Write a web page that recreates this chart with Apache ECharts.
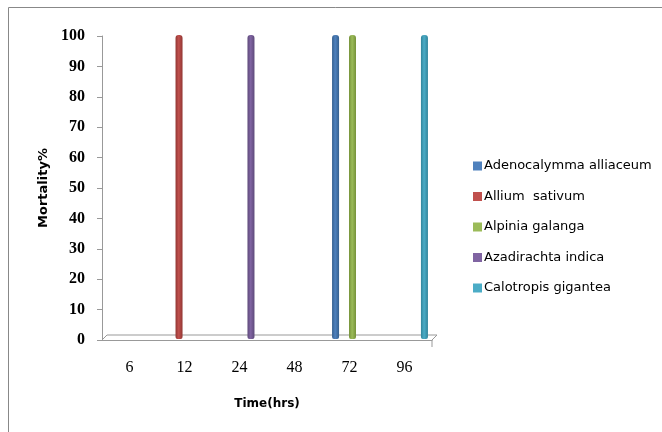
<!DOCTYPE html>
<html lang="en">
<head>
    <meta charset="UTF-8">
    <title>Mortality% over time</title>
    <script src="https://cdn.jsdelivr.net/npm/echarts@6/dist/echarts.min.js"></script>
    <style>
        body { margin: 0; background: #fff; }
        #chart { width: 662px; height: 432px; }
    </style>
</head>
<body>
<div id="chart"></div>
<script>
    // time points (hrs)
    const hours = ['6', '12', '24', '48', '72', '96'];
    const yTicks = [0, 10, 20, 30, 40, 50, 60, 70, 80, 90, 100];

    const names = ['Adenocalymma alliaceum', 'Allium  sativum', 'Alpinia galanga', 'Azadirachta indica', 'Calotropis gigantea'];
    const adenocalymma = [0, 0, 0, 0, 100, 0];
    const allium = [0, 100, 0, 0, 0, 0];
    const alpinia = [0, 0, 0, 0, 100, 0];
    const azadirachta = [0, 0, 100, 0, 0, 0];
    const calotropis = [0, 0, 0, 0, 0, 100];
    const colors = ['#4F81BD', '#C0504D', '#9BBB59', '#8064A2', '#4BACC6'];
    const edges = ['#35608f', '#923633', '#76923a', '#5e4a7a', '#31849b'];

    const chart = echarts.init(document.getElementById('chart'));

    const seriesData = [adenocalymma, allium, alpinia, azadirachta, calotropis];
    // bars live on a second grid nudged up/right to fake the 3D depth
    const series = seriesData.map((d, i) => ({
        name: names[i],
        type: 'bar',
        xAxisIndex: 1,
        yAxisIndex: 1,
        barWidth: 7,
        barGap: '21%',
        itemStyle: {
            borderRadius: [3, 3, 2, 2],
            color: new echarts.graphic.LinearGradient(0, 0, 1, 0, [
                { offset: 0, color: edges[i] },
                { offset: 0.45, color: colors[i] },
                { offset: 1, color: edges[i] }
            ])
        },
        data: d
    }));

    const option = {
        animation: false,
        color: colors,
        grid: [
            { left: 102, right: 230, top: 36, bottom: 92 },
            { left: 105, right: 227, top: 35, bottom: 93 }
        ],
        legend: {
            orient: 'vertical',
            left: 468,
            top: 154,
            itemWidth: 9,
            itemHeight: 9,
            itemGap: 16.5,
            icon: 'rect',
            textStyle: { fontFamily: 'DejaVu Sans', fontSize: 13, lineHeight: 14, color: '#000', padding: [0, 0, 0, -3] },
            data: names.map((n, i) => ({ name: n, itemStyle: { color: colors[i] } }))
        },
        xAxis: [
            {
                type: 'category',
                gridIndex: 0,
                data: hours,
                name: 'Time(hrs)',
                nameLocation: 'middle',
                nameGap: 58,
                nameTextStyle: { fontFamily: 'DejaVu Sans', fontWeight: 'bold', fontSize: 12, color: '#000' },
                axisLine: { lineStyle: { color: '#999', width: 1 } },
                axisTick: { length: 7, lineStyle: { color: '#999' } },
                axisLabel: { margin: 20, fontFamily: 'Liberation Serif', fontSize: 16, color: '#000' }
            },
            {
                type: 'category',
                gridIndex: 1,
                data: hours,
                show: false
            }
        ],
        yAxis: [
            {
                type: 'value',
                gridIndex: 0,
                min: 0,
                max: 100,
                interval: 10,
                name: 'Mortality%',
                nameLocation: 'middle',
                nameGap: 52,
                nameTextStyle: { fontFamily: 'DejaVu Sans', fontWeight: 'bold', fontSize: 13, color: '#000' },
                axisLine: { show: true, lineStyle: { color: '#999', width: 1 } },
                axisTick: { show: true, length: 5, lineStyle: { color: '#999' } },
                splitLine: { show: false },
                axisLabel: {
                    margin: 17,
                    fontFamily: 'Liberation Serif',
                    fontWeight: 'bold',
                    fontSize: 16,
                    color: '#000',
                    formatter: v => yTicks.includes(v) ? String(v) : ''
                }
            },
            {
                type: 'value',
                gridIndex: 1,
                min: 0,
                max: 100,
                show: false,
                splitLine: { show: false }
            }
        ],
        series: series
    };
    chart.setOption(option);

    // floor of the 3D look plus the outer chart border
    const grid = chart.getModel().getComponent('grid', 0).coordinateSystem.getRect();
    const x0 = grid.x, x1 = grid.x + grid.width, yb = grid.y + grid.height;
    chart.setOption({
        graphic: [
            {
                type: 'polyline',
                silent: true,
                z: 0,
                shape: { points: [[x0, yb], [x0 + 5, yb - 5], [x1 + 5, yb - 5], [x1, yb]] },
                style: { stroke: '#999', fill: null, lineWidth: 1 }
            },
            {
                type: 'line',
                silent: true,
                shape: { x1: x1, y1: yb, x2: x1, y2: yb + 7 },
                style: { stroke: '#999' }
            },
            {
                type: 'rect',
                silent: true,
                shape: { x: 8.5, y: 7.5, width: 700, height: 500 },
                style: { stroke: '#888', fill: null, lineWidth: 1 }
            }
        ]
    });
</script>
</body>
</html>
